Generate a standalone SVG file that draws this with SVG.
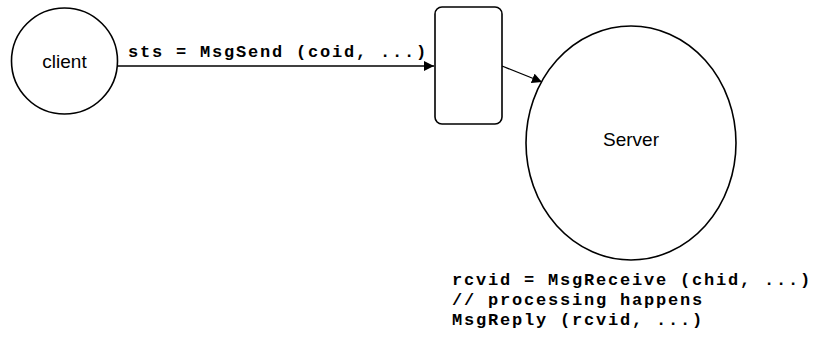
<svg xmlns="http://www.w3.org/2000/svg" width="826" height="338" viewBox="0 0 826 338">
<style>
.shape{fill:#fff;stroke:#000;stroke-width:1.6}
.lbl{font-family:"Liberation Sans",Arial,sans-serif;font-size:19px;fill:#000;text-anchor:middle}
.code{font-family:"Liberation Mono","Courier New",monospace;font-size:17px;letter-spacing:1.8px;font-weight:bold;fill:#000}
.conn{stroke:#000;stroke-width:1.3;fill:none}
</style>
<defs>
<marker id="arr" viewBox="0 0 10 10" refX="10" refY="5" markerWidth="10" markerHeight="10" markerUnits="userSpaceOnUse" orient="auto">
<path d="M0,0 L10,5 L0,10 Z" fill="#000"/>
</marker>
</defs>
<rect width="826" height="338" fill="#fff"/>
<g id="connectors">
<line class="conn" x1="117" y1="66" x2="434" y2="66" marker-end="url(#arr)"/>
<line class="conn" x1="502" y1="66" x2="542" y2="82" marker-end="url(#arr)"/>
</g>
<g id="client">
<circle class="shape" cx="64.5" cy="61" r="53"/>
<text class="lbl" x="64.5" y="68">client</text>
</g>
<g id="queue">
<rect class="shape" x="435" y="7" width="67" height="117" rx="7"/>
</g>
<g id="server">
<ellipse class="shape" cx="631" cy="143" rx="105" ry="117"/>
<text class="lbl" x="631" y="146">Server</text>
</g>
<text class="code" x="128" y="57">sts = MsgSend (coid, ...)</text>
<g id="server-code">
<text class="code" x="452" y="285">rcvid = MsgReceive (chid, ...)</text>
<text class="code" x="452" y="305">// processing happens</text>
<text class="code" x="452" y="325">MsgReply (rcvid, ...)</text>
</g>
</svg>
